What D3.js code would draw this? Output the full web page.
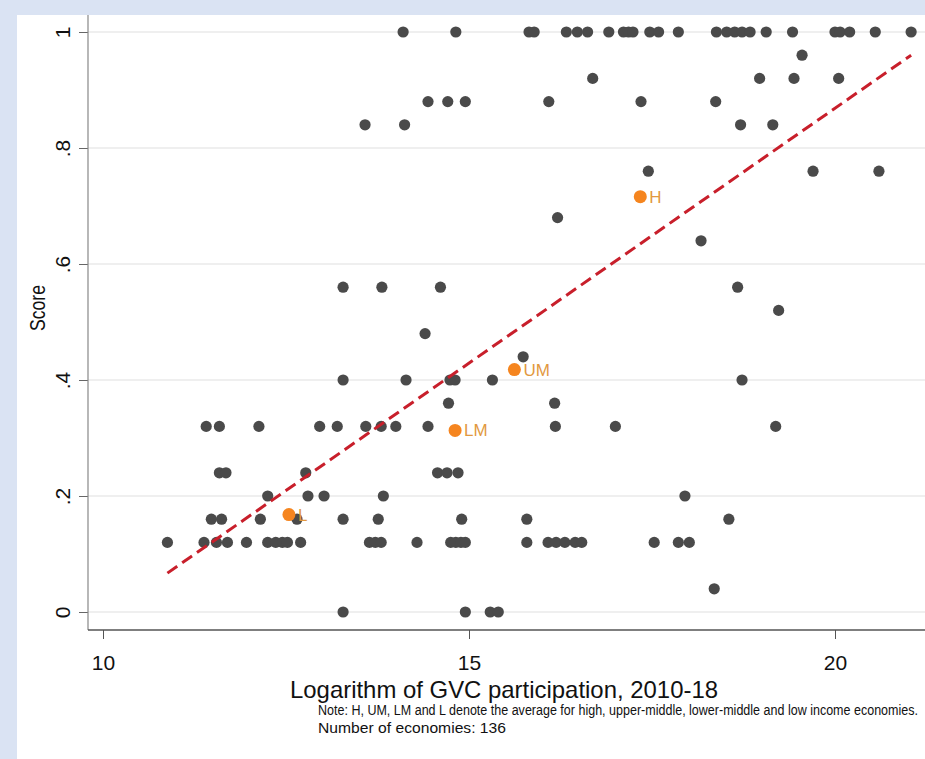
<!DOCTYPE html>
<html>
<head>
<meta charset="utf-8">
<script src="https://cdn.jsdelivr.net/npm/d3@7"></script>
<style>
  html, body { margin: 0; padding: 0; background: #dae3f3; }
  svg { display: block; }
  text { font-family: "Liberation Sans Narrow", "Arial Narrow", "Liberation Sans", Arial, sans-serif; }
</style>
</head>
<body>
<svg id="chart" width="925" height="759"></svg>
<script>
// ---- Data ----
const gvcParticipation = [
  // score 1.0
  14.10, 14.82, 15.82, 15.89, 16.33, 16.48, 16.62, 16.91, 17.11, 17.18, 17.24, 17.47, 17.59, 17.86,
  18.38, 18.52, 18.63, 18.73, 18.84, 19.06, 19.42, 20.00, 20.07, 20.20, 20.55, 21.04,
  // 0.96
  19.55,
  // 0.92
  16.69, 18.97, 19.44, 20.05,
  // 0.88
  14.44, 14.71, 14.95, 16.09, 17.35, 18.37,
  // 0.84
  13.58, 14.12, 18.71, 19.15,
  // 0.76
  17.45, 19.70, 20.60,
  // 0.68
  16.21,
  // 0.64
  18.17,
  // 0.56
  13.28, 13.81, 14.61, 18.67,
  // 0.52
  19.23,
  // 0.48
  14.40,
  // 0.44
  15.74,
  // 0.40
  13.28, 14.14, 14.74, 14.81, 15.32, 18.73,
  // 0.36
  14.72, 16.17,
  // 0.32
  11.41, 11.59, 12.13, 12.96, 13.20, 13.59, 13.80, 14.00, 14.44, 16.18, 17.00, 19.19,
  // 0.24
  11.59, 11.68, 12.77, 14.57, 14.70, 14.85,
  // 0.20
  12.25, 12.80, 13.02, 13.83, 17.95,
  // 0.16
  11.48, 11.62, 12.15, 12.65, 13.28, 13.76, 14.90, 15.79, 18.55,
  // 0.12
  10.88, 11.38, 11.55, 11.70, 11.96, 12.25, 12.36, 12.45, 12.52, 12.70, 13.64, 13.72, 13.80,
  14.29, 14.75, 14.82, 14.89, 14.95, 15.79, 16.08, 16.19, 16.31, 16.45, 16.54, 17.53, 17.86, 18.01,
  // 0.04
  18.35,
  // 0.00
  13.28, 14.95, 15.29, 15.40
];
const scores = [
  1,1,1,1,1,1,1,1,1,1,1,1,1,1, 1,1,1,1,1,1,1,1,1,1,1,1,
  0.96,
  0.92,0.92,0.92,0.92,
  0.88,0.88,0.88,0.88,0.88,0.88,
  0.84,0.84,0.84,0.84,
  0.76,0.76,0.76,
  0.68,
  0.64,
  0.56,0.56,0.56,0.56,
  0.52,
  0.48,
  0.44,
  0.40,0.40,0.40,0.40,0.40,0.40,
  0.36,0.36,
  0.32,0.32,0.32,0.32,0.32,0.32,0.32,0.32,0.32,0.32,0.32,0.32,
  0.24,0.24,0.24,0.24,0.24,0.24,
  0.20,0.20,0.20,0.20,0.20,
  0.16,0.16,0.16,0.16,0.16,0.16,0.16,0.16,0.16,
  0.12,0.12,0.12,0.12,0.12,0.12,0.12,0.12,0.12,0.12,0.12,0.12,0.12,
  0.12,0.12,0.12,0.12,0.12,0.12,0.12,0.12,0.12,0.12,0.12,0.12,0.12,0.12,
  0.04,
  0,0,0,0
];
const groupLabels = ["L", "LM", "UM", "H"];
const groupGvc = [12.54, 14.81, 15.62, 17.34];
const groupScore = [0.168, 0.313, 0.418, 0.716];
const fitGvc = [10.88, 21.04];
const fitScore = [0.067, 0.960];
const xTicks = [10, 15, 20];
const yTicks = [0, 0.2, 0.4, 0.6, 0.8, 1];
const yTickLabels = ["0", ".2", ".4", ".6", ".8", "1"];
const xTitle = "Logarithm of GVC participation, 2010-18";
const yTitle = "Score";
const noteLines = [
  "Note: H, UM, LM and L denote the average for high, upper-middle, lower-middle and low income economies.",
  "Number of economies: 136"
];

// ---- Layout ----
const W = 925, H = 759;
const panel = {x: 17, y: 15};
const plotLeft = 88, plotRight = 925, plotTop = 15, plotBottom = 630;

const svg = d3.select("#chart");
svg.append("rect").attr("x", 0).attr("y", 0).attr("width", W).attr("height", H).attr("fill", "#dae3f3");
svg.append("rect").attr("x", panel.x).attr("y", panel.y).attr("width", W - panel.x).attr("height", H - panel.y).attr("fill", "#ffffff");

const x = d3.scaleLinear().domain([10, 20]).range([103, 835]);
const y = d3.scaleLinear().domain([0, 1]).range([612, 32]);

// gridlines
svg.append("g").selectAll("line").data(yTicks).join("line")
  .attr("x1", plotLeft).attr("x2", plotRight)
  .attr("y1", d => y(d)).attr("y2", d => y(d))
  .attr("stroke", "#eaeaea").attr("stroke-width", 1.6);

// axes
const yAxis = svg.append("g").attr("transform", `translate(${plotLeft},0)`)
  .call(d3.axisLeft(y).tickValues(yTicks).tickSize(9).tickFormat((d, i) => yTickLabels[i]));
yAxis.select(".domain").remove();
yAxis.selectAll(".tick line").attr("stroke", "#666").attr("stroke-width", 1);
yAxis.selectAll(".tick text")
  .attr("transform", "rotate(-90)")
  .attr("x", 0).attr("y", -18).attr("dy", 0)
  .attr("text-anchor", "middle")
  .attr("fill", "#111").style("font-size", "21px");

const xAxis = svg.append("g").attr("transform", `translate(0,${plotBottom})`)
  .call(d3.axisBottom(x).tickValues(xTicks).tickSize(9).tickFormat(d3.format("d")));
xAxis.select(".domain").remove();
xAxis.selectAll(".tick line").attr("stroke", "#555").attr("stroke-width", 1);
xAxis.selectAll(".tick text").attr("y", 40).attr("dy", 0)
  .attr("fill", "#111").style("font-size", "21px");

svg.append("line").attr("x1", plotLeft).attr("x2", plotLeft).attr("y1", plotTop).attr("y2", plotBottom)
  .attr("stroke", "#888").attr("stroke-width", 1.2);
svg.append("line").attr("x1", plotLeft).attr("x2", plotRight).attr("y1", plotBottom).attr("y2", plotBottom)
  .attr("stroke", "#555").attr("stroke-width", 1.4);

// scatter points
const pts = gvcParticipation.map((g, i) => ({g, s: scores[i]}));
svg.append("g").selectAll("circle").data(pts).join("circle")
  .attr("cx", d => x(d.g)).attr("cy", d => y(d.s)).attr("r", 5.6)
  .attr("fill", "#4a4a4a");

// fitted line
const fit = fitGvc.map((g, i) => ({g, s: fitScore[i]}));
svg.append("path").datum(fit)
  .attr("d", d3.line().x(d => x(d.g)).y(d => y(d.s)))
  .attr("fill", "none").attr("stroke", "#c81f2b").attr("stroke-width", 3)
  .attr("stroke-dasharray", "12,6");

// group averages
const groups = groupLabels.map((l, i) => ({l, g: groupGvc[i], s: groupScore[i]}));
const gg = svg.append("g");
gg.selectAll("circle").data(groups).join("circle")
  .attr("cx", d => x(d.g)).attr("cy", d => y(d.s)).attr("r", 6.5)
  .attr("fill", "#f5851f");
gg.selectAll("text").data(groups).join("text")
  .attr("x", d => x(d.g) + 9).attr("y", d => y(d.s) + 6)
  .attr("fill", "#e2993f").style("font-size", "17px")
  .text(d => d.l);

// titles
svg.append("text").attr("x", 504).attr("y", 698).attr("text-anchor", "middle")
  .attr("fill", "#111").style("font-size", "24px")
  .attr("textLength", 428).attr("lengthAdjust", "spacingAndGlyphs")
  .text(xTitle);
svg.append("text").attr("transform", "translate(45,308) rotate(-90)").attr("text-anchor", "middle")
  .attr("fill", "#111").style("font-size", "22px")
  .attr("textLength", 46).attr("lengthAdjust", "spacingAndGlyphs")
  .text(yTitle);

// note (condensed: small font stretched vertically)
svg.append("text").attr("transform", "translate(318,715) scale(1,1.25)").attr("fill", "#111").style("font-size", "12px")
  .attr("textLength", 600).attr("lengthAdjust", "spacingAndGlyphs").text(noteLines[0]);
svg.append("text").attr("transform", "translate(318,733) scale(1,1.25)").attr("fill", "#111").style("font-size", "12px")
  .attr("textLength", 188).attr("lengthAdjust", "spacingAndGlyphs").text(noteLines[1]);
</script>
</body>
</html>
